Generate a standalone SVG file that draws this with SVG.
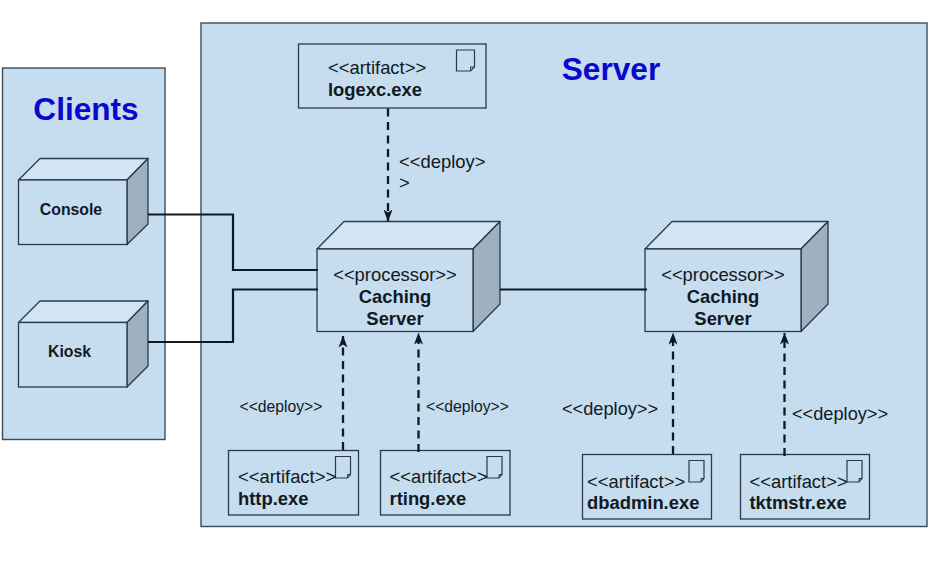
<svg xmlns="http://www.w3.org/2000/svg" width="939" height="584" viewBox="0 0 939 584">
<defs>
<marker id="arr" viewBox="0 0 12 10" refX="11.500" refY="5" markerWidth="12" markerHeight="10" markerUnits="userSpaceOnUse" orient="auto"><path d="M0,0.500 L12,5 L0,9.500 L3,5 Z" fill="#0d1a24"/></marker>
<g id="doc"><path d="M0,0 H18 V17 L14,21 H0 Z" fill="none" stroke="#2a3a48" stroke-width="1.2"/><path d="M14,21 V17 H18" fill="none" stroke="#2a3a48" stroke-width="1"/></g>
<g id="doc-s"><path d="M0,0 H15 V18 L12,21.500 H0 Z" fill="none" stroke="#2a3a48" stroke-width="1.2"/><path d="M12,21.500 V18 H15" fill="none" stroke="#2a3a48" stroke-width="1"/></g>
</defs>
<style>
text{font-family:"Liberation Sans",Arial,sans-serif;fill:#111a22}
.frame{fill:#c6dcef;stroke:#3d4b57;stroke-width:1.4}
.box{fill:#c6dcef;stroke:#2a3a48;stroke-width:1.3}
.top{fill:#d3e4f2;stroke:#2a3a48;stroke-width:1.3;stroke-linejoin:round}
.side{fill:#9fb0bf;stroke:#2a3a48;stroke-width:1.3;stroke-linejoin:round}
.t{font-size:18.400px}
.n{font-size:18.400px;font-weight:700}
.s{font-size:15.800px;font-weight:700}
.m{text-anchor:middle}
.d1{font-size:15.700px}
.d2{font-size:18.200px}
.title{font-weight:700;font-size:31.600px;fill:#0808cf}
.solid{fill:none;stroke:#0d1a24;stroke-width:2.2}
.dash{fill:none;stroke:#0d1a24;stroke-width:2.300;stroke-dasharray:8 5.500;marker-end:url(#arr)}
</style>
<g id="clients-frame"><rect class="frame" x="2.500" y="68" width="162.500" height="371.500"/><text class="title m" x="86" y="120">Clients</text></g>
<g id="server-frame"><rect class="frame" x="201" y="23" width="726" height="503.500"/><text class="title m" x="611" y="80">Server</text></g>
<g id="console"><polygon class="top" points="18.500,180 40,158.500 148,158.500 127,180"/><polygon class="side" points="127,180 148,158.500 148,224 127,244.500"/><rect class="box" x="18.500" y="180" width="108.500" height="64.500"/><text class="s m" x="71" y="215">Console</text></g>
<g id="kiosk"><polygon class="top" points="18.500,322.500 40,301 148,301 127,322.500"/><polygon class="side" points="127,322.500 148,301 148,366 127,387"/><rect class="box" x="18.500" y="322.500" width="108.500" height="64.500"/><text class="s m" x="69.500" y="357">Kiosk</text></g>
<g id="logexc"><rect class="box" x="298.500" y="44" width="187.500" height="64"/><use href="#doc" x="456.500" y="50"/><text class="t" x="328" y="73.500">&lt;&lt;artifact&gt;&gt;</text><text class="n" x="328" y="96">logexc.exe</text></g>
<g id="caching1"><polygon class="top" points="317,249 344,221.500 500,221.500 473,249"/><polygon class="side" points="473,249 500,221.500 500,304 473,331.500"/><rect class="box" x="317" y="249" width="156" height="82.500"/><text class="t m" x="395" y="281">&lt;&lt;processor&gt;&gt;</text><text class="n m" x="395" y="303">Caching</text><text class="n m" x="395" y="325">Server</text></g>
<g id="caching2"><polygon class="top" points="645,249 672,221.500 828,221.500 801,249"/><polygon class="side" points="801,249 828,221.500 828,304 801,331.500"/><rect class="box" x="645" y="249" width="156" height="82.500"/><text class="t m" x="723" y="281">&lt;&lt;processor&gt;&gt;</text><text class="n m" x="723" y="303">Caching</text><text class="n m" x="723" y="325">Server</text></g>
<g id="http"><rect class="box" x="228.500" y="450.500" width="130" height="64.500"/><use href="#doc-s" x="335.500" y="456.500"/><text class="t" x="238" y="483">&lt;&lt;artifact&gt;&gt;</text><text class="n" x="238" y="505">http.exe</text></g>
<g id="rting"><rect class="box" x="380.500" y="450.500" width="129.500" height="64.500"/><use href="#doc-s" x="487" y="456.500"/><text class="t" x="389.500" y="483">&lt;&lt;artifact&gt;&gt;</text><text class="n" x="389.500" y="505">rting.exe</text></g>
<g id="dbadmin"><rect class="box" x="582.500" y="454.500" width="129" height="64.500"/><use href="#doc-s" x="689" y="460.500"/><text class="t" x="587" y="488">&lt;&lt;artifact&gt;&gt;</text><text class="n" x="587" y="509">dbadmin.exe</text></g>
<g id="tktmstr"><rect class="box" x="740.500" y="454.500" width="129" height="64.500"/><use href="#doc-s" x="847" y="460.500"/><text class="t" x="749.500" y="488">&lt;&lt;artifact&gt;&gt;</text><text class="n" x="749.500" y="509">tktmstr.exe</text></g>
<g id="connectors">
<path class="solid" d="M148,214.500H233V270H318"/>
<path class="solid" d="M148,342H233V289.500H318"/>
<path class="solid" d="M500,289.500H647"/>
<path class="dash" d="M388,108.500V221"/>
<path class="dash" d="M343,450V336"/>
<path class="dash" d="M418.500,452V333"/>
<path class="dash" d="M673,454V333"/>
<path class="dash" d="M784.500,456V333"/>
<text class="t" x="399" y="168">&lt;&lt;deploy&gt;</text><text class="t" x="399" y="189">&gt;</text>
<text class="d1" x="239.500" y="412">&lt;&lt;deploy&gt;&gt;</text>
<text class="d1" x="426" y="412">&lt;&lt;deploy&gt;&gt;</text>
<text class="d2" x="562" y="414.500">&lt;&lt;deploy&gt;&gt;</text>
<text class="d2" x="792" y="420">&lt;&lt;deploy&gt;&gt;</text>
</g>
</svg>
